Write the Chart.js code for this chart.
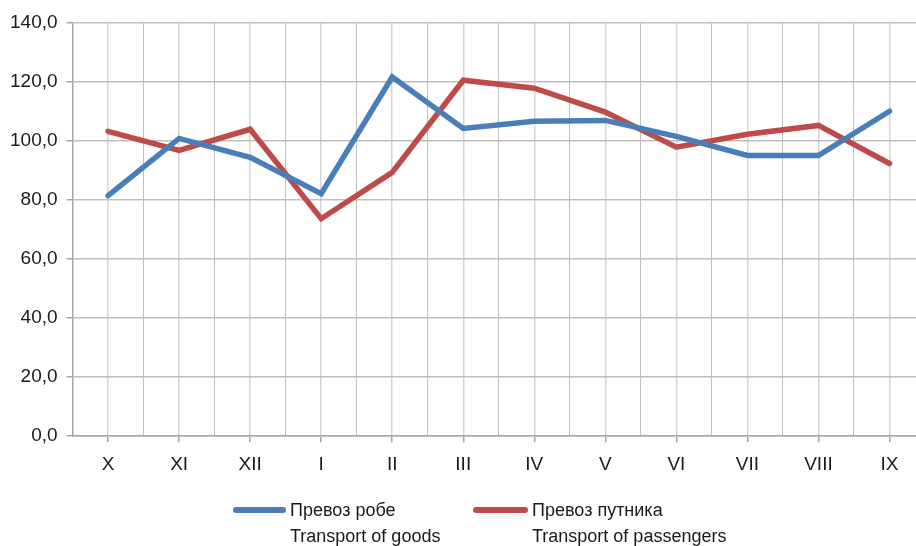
<!DOCTYPE html>
<html>
<head>
<meta charset="utf-8">
<script src="https://cdn.jsdelivr.net/npm/chart.js@4"></script>
<style>
  html, body { margin: 0; padding: 0; background: #fff; overflow: hidden; }
  #wrap { position: relative; width: 926px; height: 546px; }
  .lg { position: absolute; font-family: 'Liberation Sans', Arial, sans-serif; font-size: 18px; color: #1a1a1a; line-height: 26px; }
  .lg .sw { position: absolute; height: 6px; border-radius: 3px; }
  .lg .tx { position: absolute; white-space: nowrap; }
</style>
</head>
<body>
<div id="wrap">
  <canvas id="chart" width="926" height="546"></canvas>
  <div id="legend"></div>
</div>
<script>
const months = ['X', 'XI', 'XII', 'I', 'II', 'III', 'IV', 'V', 'VI', 'VII', 'VIII', 'IX'];
const goods = [81.5, 100.9, 94.5, 82.2, 121.7, 104.3, 106.7, 107.0, 101.6, 95.1, 95.1, 110.1];
const passengers = [103.3, 96.8, 104.0, 73.7, 89.4, 120.6, 117.9, 109.8, 97.9, 102.3, 105.3, 92.4];
const seriesNames = [
  ['Превоз робе', 'Transport of goods'],
  ['Превоз путника', 'Transport of passengers']
];
const yTicks = [0, 20, 40, 60, 80, 100, 120, 140];

const FONT = "'Liberation Sans', Arial, sans-serif";
const colors = ['#4a7ebb', '#be4b48'];

const chart = new Chart(document.getElementById('chart'), {
  type: 'line',
  data: {
    labels: months,
    datasets: [
      { label: seriesNames[0].join(' '), data: goods, borderColor: colors[0], backgroundColor: colors[0] },
      { label: seriesNames[1].join(' '), data: passengers, borderColor: colors[1], backgroundColor: colors[1] }
    ].map(d => Object.assign(d, {
      borderWidth: 5.5, pointRadius: 0, tension: 0, fill: false,
      borderCapStyle: 'round', borderJoinStyle: 'miter'
    }))
  },
  options: {
    responsive: false,
    animation: false,
    layout: { padding: { left: 1, right: 1, top: 0, bottom: 59 } },
    plugins: { legend: { display: false }, tooltip: { enabled: false } },
    scales: {
      x: {
        type: 'category',
        position: 'bottom',
        offset: true,
        grid: { offset: false, color: '#d6d6d6', lineWidth: 1.5, tickLength: 6, tickColor: '#a6a6a6' },
        border: { color: '#a6a6a6', width: 1.5 },
        ticks: { color: '#1a1a1a', font: { family: FONT, size: 19 }, padding: 11, maxRotation: 0, autoSkip: false }
      },
      x2: {
        type: 'category',
        position: 'top',
        offset: true,
        grid: { offset: true, color: '#bfbfbf', lineWidth: 1, drawTicks: false },
        border: { display: false },
        ticks: { display: false },
        afterFit: axis => { axis.height = 23; }
      },
      y: {
        min: 0,
        max: 140,
        afterBuildTicks: axis => { axis.ticks = yTicks.map(v => ({ value: v })); },
        grid: { color: '#bfbfbf', lineWidth: 1.5, tickLength: 6, tickColor: '#a6a6a6' },
        border: { color: '#a6a6a6', width: 1.5 },
        ticks: {
          color: '#1a1a1a', font: { family: FONT, size: 19 }, padding: 9,
          callback: v => v.toFixed(1).replace('.', ',')
        }
      }
    }
  }
});

// legend below the chart, two-line labels
const legend = document.getElementById('legend');
const legendPos = [{ sw: 233, swW: 53, tx: 290 }, { sw: 473, swW: 55, tx: 532 }];
seriesNames.forEach((lines, i) => {
  const box = document.createElement('div');
  box.className = 'lg';
  box.style.left = '0px';
  box.style.top = '497px';
  const sw = document.createElement('div');
  sw.className = 'sw';
  sw.style.left = legendPos[i].sw + 'px';
  sw.style.width = legendPos[i].swW + 'px';
  sw.style.top = '10px';
  sw.style.background = colors[i];
  const tx = document.createElement('div');
  tx.className = 'tx';
  tx.style.left = legendPos[i].tx + 'px';
  tx.innerHTML = lines.join('<br>');
  box.appendChild(sw);
  box.appendChild(tx);
  legend.appendChild(box);
});
</script>
</body>
</html>
